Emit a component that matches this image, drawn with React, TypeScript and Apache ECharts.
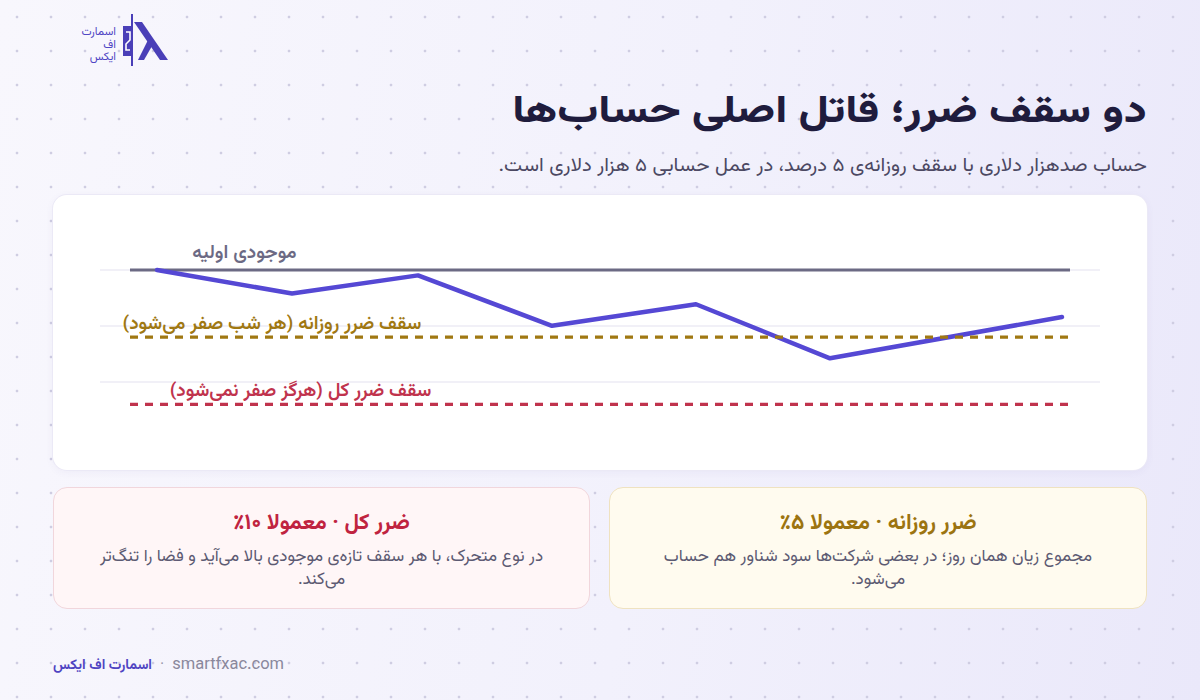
import React, { useEffect, useRef } from "react";
import * as echarts from "echarts";

const FONT = '"Vazirmatn", "Noto Sans Arabic", "DejaVu Sans", sans-serif';

const titleText = "دو سقف ضرر؛ قاتل اصلی حساب‌ها";
const subtitleText = "حساب صدهزار دلاری با سقف روزانه‌ی ۵ درصد، در عمل حسابی ۵ هزار دلاری است.";

// equity path (x: position along the period, y: balance in $)
const equityDays = [5.7, 19.2, 31.8, 45.2, 59.6, 73.0, 96.2];
const equityValues = [100000, 98250, 99600, 95850, 97450, 93430, 96500];

// reference levels
const refSpan = [3, 97];
const initialBalance = 100000;
const dailyLimit = 95000;
const totalLimit = 90000;

const labelInitial = "موجودی اولیه";
const labelDaily = "سقف ضرر روزانه (هر شب صفر می‌شود)\u200F";
const labelTotal = "سقف ضرر کل (هرگز صفر نمی‌شود)\u200F";

const gridStep = 100000 / 24;
const yMin = gridStep * 21;
const yMax = gridStep * 25;

const cardTotalTitle = "ضرر کل · معمولا ۱۰٪";
const cardTotalBody = "در نوع متحرک، با هر سقف تازه‌ی موجودی بالا می‌آید و فضا را تنگ‌تر می‌کند.";
const cardDailyTitle = "ضرر روزانه · معمولا ۵٪";
const cardDailyBody = "مجموع زیان همان روز؛ در بعضی شرکت‌ها سود شناور هم حساب می‌شود.";

const brandFa = "اسمارت اف ایکس";
const brandUrl = "smartfxac.com";
const logoText = "اسمارت\nاف\nایکس";

function refSeries(name: string, value: number, color: string, dashed: boolean, label: string, pos: number[]) {
  return {
    type: "line",
    name,
    silent: true,
    symbol: "circle",
    symbolSize: 1,
    showSymbol: true,
    itemStyle: { color: "rgba(0,0,0,0)" },
    lineStyle: { color, width: dashed ? 3.2 : 3, type: dashed ? [8, 7] : "solid", cap: "butt" },
    emphasis: { disabled: true },
    data: [
      {
        value: [refSpan[0], value],
        label: {
          show: true,
          formatter: label,
          position: pos,
          align: "right",
          verticalAlign: "middle",
          color,
          fontSize: 19,
          fontWeight: 600,
          fontFamily: FONT,
        },
      },
      { value: [refSpan[1], value] },
    ],
  };
}

function Chart() {
  const ref = useRef<HTMLDivElement>(null);
  useEffect(() => {
    if (!ref.current) return;
    const chart = echarts.init(ref.current, undefined, { renderer: "svg" });
    chart.setOption({
      animation: false,
      grid: { left: 47, right: 47, top: 19, bottom: 32 },
      xAxis: { type: "value", min: 0, max: 100, show: false, splitLine: { show: false } },
      yAxis: {
        type: "value",
        min: yMin,
        max: yMax,
        interval: gridStep,
        axisLine: { show: false },
        axisTick: { show: false },
        axisLabel: { show: false },
        splitLine: { show: true, showMinLine: false, showMaxLine: false, lineStyle: { color: "#ecebf5", width: 1.5 } },
      },
      series: [
        refSeries("initial", initialBalance, "#6c6a84", false, labelInitial, [167, -16]),
        {
          type: "line",
          name: "equity",
          silent: true,
          symbol: "none",
          data: equityDays.map((d, i) => [d, equityValues[i]]),
          lineStyle: { color: "#5548d4", width: 4.5, cap: "round", join: "round" },
        },
        refSeries("daily", dailyLimit, "#a07812", true, labelDaily, [292, -12]),
        refSeries("total", totalLimit, "#c0334d", true, labelTotal, [302, -12]),
      ],
    });
    return () => chart.dispose();
  }, []);
  return <div ref={ref} style={{ width: 1094, height: 275 }} />;
}

function InfoCard(props: { left: number; width: number; bg: string; border: string; color: string; title: string; body: string }) {
  return (
    <div
      dir="rtl"
      style={{
        position: "absolute",
        left: props.left,
        top: 487,
        width: props.width,
        height: 122,
        boxSizing: "border-box",
        background: props.bg,
        border: `1px solid ${props.border}`,
        borderRadius: 14,
        padding: "22px 28px 0",
        textAlign: "center",
        fontFamily: FONT,
      }}
    >
      <div style={{ fontSize: 22, fontWeight: "bold", color: props.color, lineHeight: "28px" }}>{props.title}</div>
      <div style={{ fontSize: 17, color: "#5c5a72", lineHeight: "23px", marginTop: 8 }}>{props.body}</div>
    </div>
  );
}

export default function App() {
  useEffect(() => {
    document.body.style.margin = "0";
  }, []);
  return (
    <div
      style={{
        position: "fixed",
        left: 0,
        top: 0,
        width: 1200,
        height: 700,
        overflow: "hidden",
        fontFamily: FONT,
        background:
          "radial-gradient(circle, #cfcde2 1.1px, rgba(0,0,0,0) 1.7px) 0 0 / 34px 34px, linear-gradient(100deg, #f8f7fd 0%, #f2f1fc 55%, #eae8fa 100%)",
      }}
    >
      {/* logo */}
      <div
        dir="rtl"
        style={{
          position: "absolute",
          left: 62,
          top: 26,
          width: 54,
          textAlign: "right",
          color: "#5046c4",
          fontSize: 11.5,
          lineHeight: "12.5px",
          whiteSpace: "pre-line",
        }}
      >
        {logoText}
      </div>
      <svg style={{ position: "absolute", left: 120, top: 12 }} width={52} height={56} viewBox="0 0 52 56">
        <line x1={12} y1={2} x2={12} y2={54} stroke="#4a3fb8" strokeWidth={2} />
        <rect x={3} y={14} width={10} height={30} fill="#4a3fb8" />
        <path d="M6 20 L10 20 L10 28 L6 32 L6 38 L10 38" stroke="#ffffff" strokeWidth={1.6} fill="none" />
        <polygon points="14,10 22,10 48,48 40,48" fill="#4a3fb8" />
        <polygon points="28,28 32,34 24,48 18,48" fill="#4a3fb8" />
      </svg>

      {/* title */}
      <div
        dir="rtl"
        style={{
          position: "absolute",
          right: 53,
          top: 90,
          color: "#1f1c3d",
          fontSize: 38,
          fontWeight: 800,
          lineHeight: "46px",
          whiteSpace: "nowrap",
          transform: "scaleX(1.2)",
          transformOrigin: "right center",
        }}
      >
        {titleText}
      </div>
      <div
        dir="rtl"
        style={{
          position: "absolute",
          right: 53,
          top: 155,
          color: "#4b4862",
          fontSize: 19,
          lineHeight: "24px",
          whiteSpace: "nowrap",
          transform: "scaleX(1.07)",
          transformOrigin: "right center",
        }}
      >
        {subtitleText}
      </div>

      {/* chart card */}
      <div
        style={{
          position: "absolute",
          left: 53,
          top: 195,
          width: 1094,
          height: 275,
          background: "#ffffff",
          borderRadius: 14,
          boxShadow: "0 0 0 1px #ebe9f6, 0 2px 8px rgba(80,70,160,0.06)",
          overflow: "hidden",
        }}
      >
        <Chart />
      </div>

      <InfoCard left={53} width={537} bg="#fff6f7" border="#f1d6dc" color="#c0233f" title={cardTotalTitle} body={cardTotalBody} />
      <InfoCard left={609} width={538} bg="#fffbef" border="#efe2c0" color="#9c7410" title={cardDailyTitle} body={cardDailyBody} />

      {/* footer */}
      <div style={{ position: "absolute", left: 53, top: 654, fontSize: 14, lineHeight: "22px", whiteSpace: "nowrap" }}>
        <span style={{ color: "#4f44c2", fontWeight: "bold" }}>{brandFa}</span>
        <span style={{ color: "#9a98ac", fontSize: 16, margin: "0 8px" }}>·</span>
        <span style={{ color: "#8a889c", fontSize: 16.5 }}>{brandUrl}</span>
      </div>
    </div>
  );
}
